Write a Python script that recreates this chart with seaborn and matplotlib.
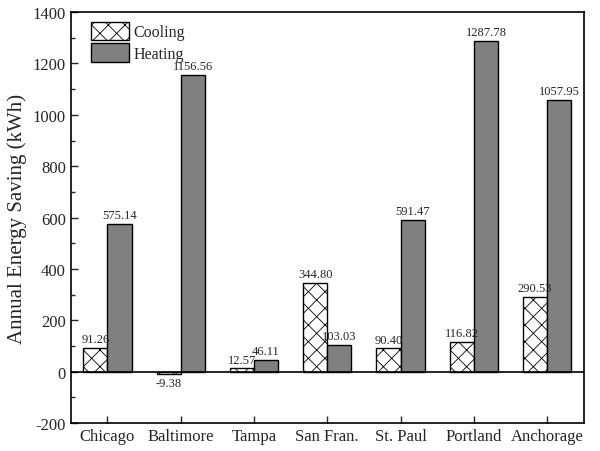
import matplotlib
matplotlib.use("Agg")
import matplotlib.pyplot as plt
import seaborn as sns
import pandas as pd
from matplotlib.ticker import MultipleLocator

cities = ["Chicago", "Baltimore", "Tampa", "San Fran.", "St. Paul", "Portland", "Anchorage"]
cooling = [91.26, -9.38, 12.57, 344.80, 90.40, 116.82, 290.53]
heating = [575.14, 1156.56, 46.11, 103.03, 591.47, 1287.78, 1057.95]
series = ["Cooling", "Heating"]

df = pd.DataFrame({
    "city": cities * 2,
    "value": cooling + heating,
    "type": ["Cooling"] * len(cities) + ["Heating"] * len(cities),
})

sns.set_style("white")
plt.rcParams["font.family"] = ["Liberation Serif", "DejaVu Serif"]
plt.rcParams["axes.unicode_minus"] = False
plt.rcParams["hatch.color"] = "#555555"
plt.rcParams["hatch.linewidth"] = 0.6

fig = plt.figure(figsize=(6, 4.52), dpi=100)
ax = fig.add_axes([0.118, 0.062, 0.855, 0.909])

sns.barplot(data=df, x="city", y="value", hue="type", hue_order=series,
            palette={"Cooling": "white", "Heating": "#808080"},
            width=0.66, gap=0, edgecolor="black", linewidth=1.0, ax=ax,
            saturation=1)

for patch in ax.containers[0]:
    patch.set_hatch("xx")

for cont, vals in zip(ax.containers, [cooling, heating]):
    ax.bar_label(cont, labels=[f"{v:.2f}" for v in vals], padding=2, fontsize=9)

ax.axhline(0, color="black", lw=1.2, zorder=5)
ax.set_ylim(-200, 1400)
ax.set_xlim(-0.5, 6.5)
ax.yaxis.set_major_locator(MultipleLocator(200))
ax.yaxis.set_minor_locator(MultipleLocator(100))
ax.tick_params(axis="both", which="major", direction="in", length=5, width=1, labelsize=12,
               left=True, bottom=True)
ax.tick_params(axis="y", which="minor", direction="in", length=3, width=1, left=True)
ax.set_xlabel("")
ax.set_ylabel("Annual Energy Saving (kWh)", fontsize=15, labelpad=4)
for s in ax.spines.values():
    s.set_color("black")
    s.set_linewidth(1.2)

leg = ax.legend(loc="upper left", bbox_to_anchor=(0.02, 1.0), frameon=False, fontsize=11.5,
                handlelength=2.4, handleheight=1.4, borderaxespad=0.2, labelspacing=0.2,
                handletextpad=0.3)
for h in leg.legend_handles:
    h.set_edgecolor("black")
leg.legend_handles[0].set_hatch("xx")

fig.savefig("out.png", dpi=100)
